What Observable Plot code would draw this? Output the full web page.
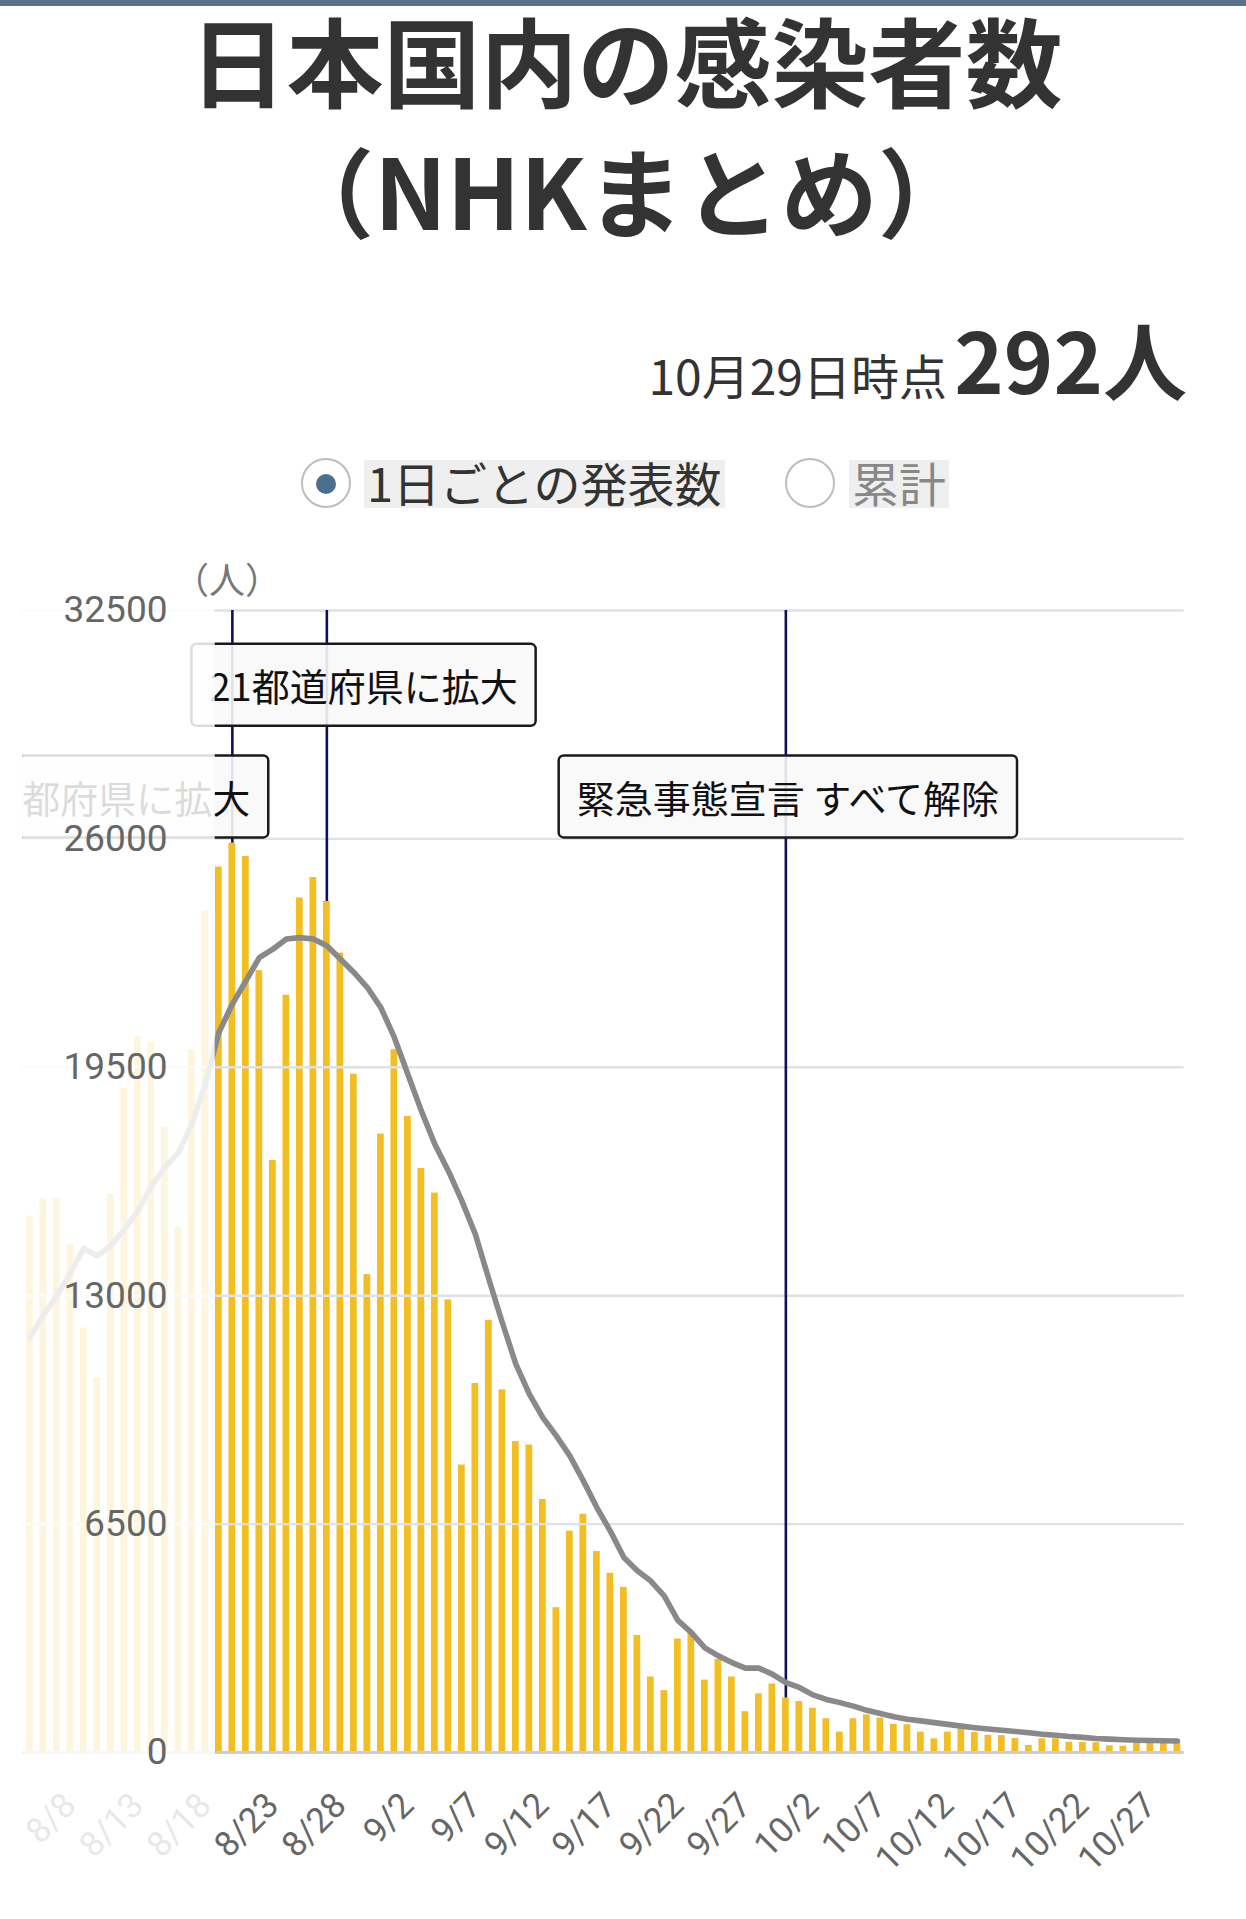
<!DOCTYPE html>
<html lang="ja">
<head>
<meta charset="utf-8">
<script src="https://cdn.jsdelivr.net/npm/d3@7"></script>
<script src="https://cdn.jsdelivr.net/npm/@observablehq/plot@0.6"></script>
<style>
  html, body { margin: 0; padding: 0; background: #fff; }
  body { width: 1246px; height: 1919px; position: relative; overflow: hidden;
         font-family: "Noto Sans CJK JP", sans-serif; color: #333; }
  .abs { position: absolute; white-space: nowrap; }
  #topbar { left: 0; top: 0; width: 1246px; height: 6px; background: #5b7189; }
  .title { left: 3px; width: 1246px; text-align: center; font-size: 97px; line-height: 97px; font-weight: 700; color: #333; }
  #asof { right: 299px; top: 350px; font-size: 48px; line-height: 48px; color: #333; }
  #latest { right: 59px; top: 316px; font-size: 84px; line-height: 84px; font-weight: 700; color: #333; }
  .radio { width: 50px; height: 50px; box-sizing: border-box; border: 2.5px solid #bdbdbd; border-radius: 50%; top: 458px; background: #fff; }
  .dot { width: 20px; height: 20px; border-radius: 50%; background: #4d6f8f; left: 315.5px; top: 473.5px; }
  .lab { top: 460px; height: 48px; line-height: 43px; font-size: 47px; background: #efefef; padding: 0 3px; }
  #unit { left: 173px; top: 560px; font-size: 36px; line-height: 36px; color: #777; }
  #chart { left: 0; top: 540px; }
</style>
</head>
<body>
<div id="topbar" class="abs"></div>
<div class="abs title" style="top:9px">日本国内の感染者数</div>
<div class="abs title" style="top:139px">（NHKまとめ）</div>
<div id="asof" class="abs">10月29日時点</div>
<div id="latest" class="abs">292人</div>
<div class="abs radio" style="left:300.5px"></div>
<div class="abs dot"></div>
<div class="abs lab" style="left:364px;color:#333">1日ごとの発表数</div>
<div class="abs radio" style="left:784.7px"></div>
<div class="abs lab" style="left:849px;color:#888">累計</div>
<div id="chart" class="abs"></div>
<div id="unit" class="abs">（人）</div>
<script>
// ---------- data ----------
const dateLabels = [
  "8/5","8/6","8/7","8/8","8/9","8/10","8/11","8/12","8/13","8/14","8/15","8/16","8/17","8/18",
  "8/19","8/20","8/21","8/22","8/23","8/24","8/25","8/26","8/27","8/28","8/29","8/30","8/31",
  "9/1","9/2","9/3","9/4","9/5","9/6","9/7","9/8","9/9","9/10","9/11","9/12","9/13","9/14","9/15",
  "9/16","9/17","9/18","9/19","9/20","9/21","9/22","9/23","9/24","9/25","9/26","9/27","9/28","9/29","9/30",
  "10/1","10/2","10/3","10/4","10/5","10/6","10/7","10/8","10/9","10/10","10/11","10/12","10/13","10/14",
  "10/15","10/16","10/17","10/18","10/19","10/20","10/21","10/22","10/23","10/24","10/25","10/26","10/27",
  "10/28","10/29"
];
const dailyCases = [
  15260, 15750, 15750, 14470, 12080, 10650, 15880, 18900, 20370, 20200, 17800, 14950, 20000, 23950,
  25200, 25880, 25500, 22250, 16850, 21550, 24320, 24900, 24220, 22750, 19300, 13600, 17600,
  20000, 18100, 16620, 15920, 12880, 8180, 10500, 12300, 10320, 8850, 8750, 7200, 4120, 6300, 6780,
  5720, 5100, 4700, 3330, 2150, 1760, 3230, 3400, 2060, 2650, 2150, 1160, 1670, 1950, 1550,
  1450, 1260, 960, 580, 960, 1070, 980, 800, 790, 580, 390, 580, 690, 570,
  490, 480, 400, 200, 390, 390, 290, 290, 280, 190, 180, 290, 300,
  290, 292
];
const weeklyAverage = [
  11800, 12450, 13000, 13650, 14350, 14130, 14420, 14890, 15410, 16120, 16650, 17070, 17880, 19020,
  20490, 21300, 21960, 22620, 22860, 23150, 23190, 23150, 22960, 22580, 22200, 21770, 21200,
  20350, 19300, 18260, 17310, 16550, 15700, 14750, 13470, 12230, 11050, 10200, 9530, 9010, 8440, 7730,
  6970, 6300, 5550, 5170, 4880, 4450, 3760, 3410, 2980, 2750, 2560, 2400, 2400, 2230, 1990,
  1850, 1640, 1510, 1420, 1320, 1200, 1110, 1020, 945, 900, 850, 800, 750, 706,
  670, 635, 600, 560, 520, 490, 455, 430, 400, 380, 365, 350, 340,
  333, 327
];
const xTickLabels = ["8/8","8/13","8/18","8/23","8/28","9/2","9/7","9/12","9/17","9/22","9/27","10/2","10/7","10/12","10/17","10/22","10/27"];
const yTicks = [0, 6500, 13000, 19500, 26000, 32500];
const eventDates = ["8/20", "8/27", "9/30"];
const eventLabels = ["13都府県に拡大", "21都道府県に拡大", "緊急事態宣言 すべて解除"];

// ---------- layout (not data) ----------
const annLayout = [
  {y: 27085, textAnchor: "end", dx: 17.9},
  {y: 30260, textAnchor: "start", dx: -117.4},
  {y: 27085, textAnchor: "middle", dx: 2}
];
const DAY = 86400e3;
const parse = s => { const [m, d] = s.split("/").map(Number); return new Date(Date.UTC(2021, m - 1, d)); };

const rows = dateLabels.map((s, i) => ({date: parse(s), value: dailyCases[i], avg: weeklyAverage[i]}));
const x0 = new Date(+rows[0].date - DAY / 2);
const x1 = new Date(+rows[rows.length - 1].date + DAY / 2);
const fadeEnd = new Date(+parse("8/19") - 0.27 * DAY);
const events = eventDates.map((s, i) => ({
  date: parse(s), label: eventLabels[i],
  value: rows.find(r => +r.date === +parse(s)).value
}));
const xTicks = xTickLabels.map(parse);

const chart = Plot.plot({
  width: 1246, height: 1372,
  marginLeft: 22.6, marginRight: 62.4, marginTop: 70, marginBottom: 160,
  x: {type: "utc", domain: [x0, x1]},
  y: {domain: [0, 32500]},
  style: {fontFamily: "Roboto, 'Noto Sans CJK JP', sans-serif", background: "transparent", overflow: "visible"},
  marks: [
    Plot.rectY(rows, {
      x1: d => new Date(+d.date - DAY / 4), x2: d => new Date(+d.date + DAY / 4),
      y: "value", fill: "#f2be22"
    }),
    Plot.gridY(yTicks, {stroke: "#dde1e8", strokeOpacity: 1, strokeWidth: 2.4}),
    Plot.ruleY([0], {stroke: "#c8cdd6", strokeWidth: 3}),
    Plot.ruleX(events, {x: "date", y1: "value", y2: 32500, stroke: "#10105a", strokeWidth: 2.6}),
    Plot.line(rows, {x: "date", y: "avg", stroke: "#898989", strokeWidth: 5.6, strokeLinejoin: "round", strokeLinecap: "round"}),
    ...events.map((e, i) => Plot.text([e], {
      x: "date", y: () => annLayout[i].y, text: "label",
      textAnchor: annLayout[i].textAnchor, dx: annLayout[i].dx,
      fontSize: 38, fill: "#111", fontFamily: "Noto Sans CJK JP"
    })),
    Plot.axisX({ticks: xTicks, tickFormat: d3.utcFormat("%-m/%-d"), tickRotate: -45, tickSize: 0, tickPadding: 47, fontSize: 35, fill: "#666", label: null}),
    Plot.rect([0], {x1: x0, x2: fadeEnd, y1: -3600, y2: 32700, fill: "white", fillOpacity: 0.85}),
    Plot.axisY({ticks: yTicks, tickSize: 0, tickPadding: 0, dx: 144.4, fontSize: 37, fill: "#666", label: null, tickFormat: d => String(d)})
  ]
});
document.getElementById("chart").appendChild(chart);

// boxes behind annotation labels, clipped to the plot frame
const NS = "http://www.w3.org/2000/svg";
const xr = chart.scale("x").range;
const defs = document.createElementNS(NS, "defs");
const cp = document.createElementNS(NS, "clipPath");
cp.setAttribute("id", "frameclip");
const cr = document.createElementNS(NS, "rect");
cr.setAttribute("x", Math.min(...xr)); cr.setAttribute("y", 0);
cr.setAttribute("width", Math.abs(xr[1] - xr[0])); cr.setAttribute("height", 1372);
cp.appendChild(cr); defs.appendChild(cp); chart.insertBefore(defs, chart.firstChild);
const padX = 18, boxH = 82;
const groups = new Set();
chart.querySelectorAll("text").forEach(t => {
  if (!eventLabels.includes(t.textContent)) return;
  const b = t.getBBox();
  const r = document.createElementNS(NS, "rect");
  const cy = b.y + b.height / 2;
  r.setAttribute("x", b.x - padX);
  r.setAttribute("y", cy - boxH / 2);
  r.setAttribute("width", b.width + 2 * padX);
  r.setAttribute("height", boxH);
  r.setAttribute("rx", 5);
  r.setAttribute("fill", "rgba(248,248,248,0.9)");
  r.setAttribute("stroke", "#1a1a1a");
  r.setAttribute("stroke-width", 2.5);
  if (t.getAttribute("transform")) r.setAttribute("transform", t.getAttribute("transform"));
  t.parentNode.insertBefore(r, t);
  groups.add(t.parentNode);
});
groups.forEach(g => {
  const wrap = document.createElementNS(NS, "g");
  wrap.setAttribute("clip-path", "url(#frameclip)");
  g.parentNode.insertBefore(wrap, g);
  wrap.appendChild(g);
});
</script>
</body>
</html>
